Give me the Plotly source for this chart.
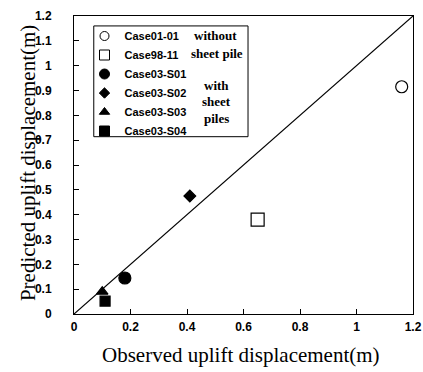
import plotly.graph_objects as go

# ---- data ----
case_names = ["Case01-01", "Case98-11", "Case03-S01", "Case03-S02", "Case03-S03", "Case03-S04"]
observed = [1.16, 0.65, 0.18, 0.41, 0.10, 0.11]
predicted = [0.915, 0.38, 0.145, 0.475, 0.09, 0.052]
symbols = ["circle-open", "square-open", "circle", "diamond", "triangle-up", "square"]
sizes = [12, 13, 12, 9, 10, 10]
legend_sizes = [9, 10, 10, 8, 9, 10]

line_x = [0, 1.2]
line_y = [0, 1.2]

tick_vals_x = [0, 0.2, 0.4, 0.6, 0.8, 1.0, 1.2]
tick_text_x = ["0", "0.2", "0.4", "0.6", "0.8", "1", "1.2"]
tick_vals_y = [0, 0.1, 0.2, 0.3, 0.4, 0.5, 0.6, 0.7, 0.8, 0.9, 1.0, 1.1, 1.2]
tick_text_y = ["0", "0.1", "0.2", "0.3", "0.4", "0.5", "0.6", "0.7", "0.8", "0.9", "1", "1.1", "1.2"]

note_text = ["without", "sheet pile", "with", "sheet", "piles"]
note_x = [0.50, 0.506, 0.506, 0.506, 0.506]
note_y = [1.12, 1.051, 0.922, 0.855, 0.789]

x_title = "Observed uplift displacement(m)"
y_title = "Predicted uplift displacement(m)"

fig = go.Figure()
fig.add_trace(go.Scatter(x=line_x, y=line_y, mode="lines",
                         line=dict(color="black", width=1.2), showlegend=False, hoverinfo="skip"))
for n, ox, py, s, sz in zip(case_names, observed, predicted, symbols, sizes):
    fig.add_trace(go.Scatter(
        x=[ox], y=[py], mode="markers", name=n, showlegend=False,
        marker=dict(symbol=s, size=sz, color="black",
                    line=dict(color="black", width=1.2)),
    ))
# legend entries (smaller symbols, as in the reference legend)
for n, s, sz in zip(case_names, symbols, legend_sizes):
    fig.add_trace(go.Scatter(
        x=[None], y=[None], mode="markers", name=n, showlegend=True,
        marker=dict(symbol=s, size=sz, color="black",
                    line=dict(color="black", width=1)),
    ))

ann = []
for t, x, y in zip(note_text, note_x, note_y):
    ann.append(dict(x=x, y=y, xref="x", yref="y", text=t, showarrow=False,
                    font=dict(family="Liberation Serif", size=13, color="black", weight="bold"),
                    xanchor="center", yanchor="middle"))
ann.append(dict(x=0.493, y=-0.1376, xref="paper", yref="paper", text=x_title, showarrow=False,
                font=dict(family="Liberation Serif", size=21, color="black"),
                xanchor="center", yanchor="middle"))
ann.append(dict(x=-0.137, y=0.505, xref="paper", yref="paper", text=y_title, showarrow=False,
                textangle=-90,
                font=dict(family="Liberation Serif", size=21, color="black"),
                xanchor="center", yanchor="middle"))

fig.update_layout(
    width=423, height=372,
    margin=dict(l=73.5, r=10, t=16, b=58, autoexpand=False),
    paper_bgcolor="white", plot_bgcolor="white",
    font=dict(family="Liberation Sans", color="black"),
    showlegend=True,
    legend=dict(x=0.031, y=0.9815, xanchor="left", yanchor="top",
                bgcolor="rgba(0,0,0,0)", borderwidth=0,
                font=dict(family="Liberation Sans", size=11, color="black", weight="bold"),
                itemsizing="trace"),
    annotations=ann,
    shapes=[dict(type="rect", xref="x", yref="y", x0=0.07, x1=0.616, y0=0.714, y1=1.16,
                 line=dict(color="black", width=1), fillcolor="rgba(0,0,0,0)", layer="below")],
    xaxis=dict(range=[0, 1.2], tickvals=tick_vals_x, ticktext=tick_text_x,
               ticks="inside", ticklen=5, tickcolor="black", automargin=False,
               showline=True, linecolor="black", linewidth=1, mirror=True,
               showgrid=False, zeroline=False,
               tickfont=dict(family="Liberation Sans", size=12, color="black", weight="bold"),
               ticklabelstandoff=2),
    yaxis=dict(range=[0, 1.2], tickvals=tick_vals_y, ticktext=tick_text_y,
               ticks="inside", ticklen=5, tickcolor="black", automargin=False,
               showline=True, linecolor="black", linewidth=1, mirror=True,
               showgrid=False, zeroline=False,
               tickfont=dict(family="Liberation Sans", size=12, color="black", weight="bold"),
               ticklabelstandoff=19),
)

fig.write_html("out.html", config={"displayModeBar": False},
               post_script="document.body.style.margin='0';document.body.style.overflow='hidden';")
